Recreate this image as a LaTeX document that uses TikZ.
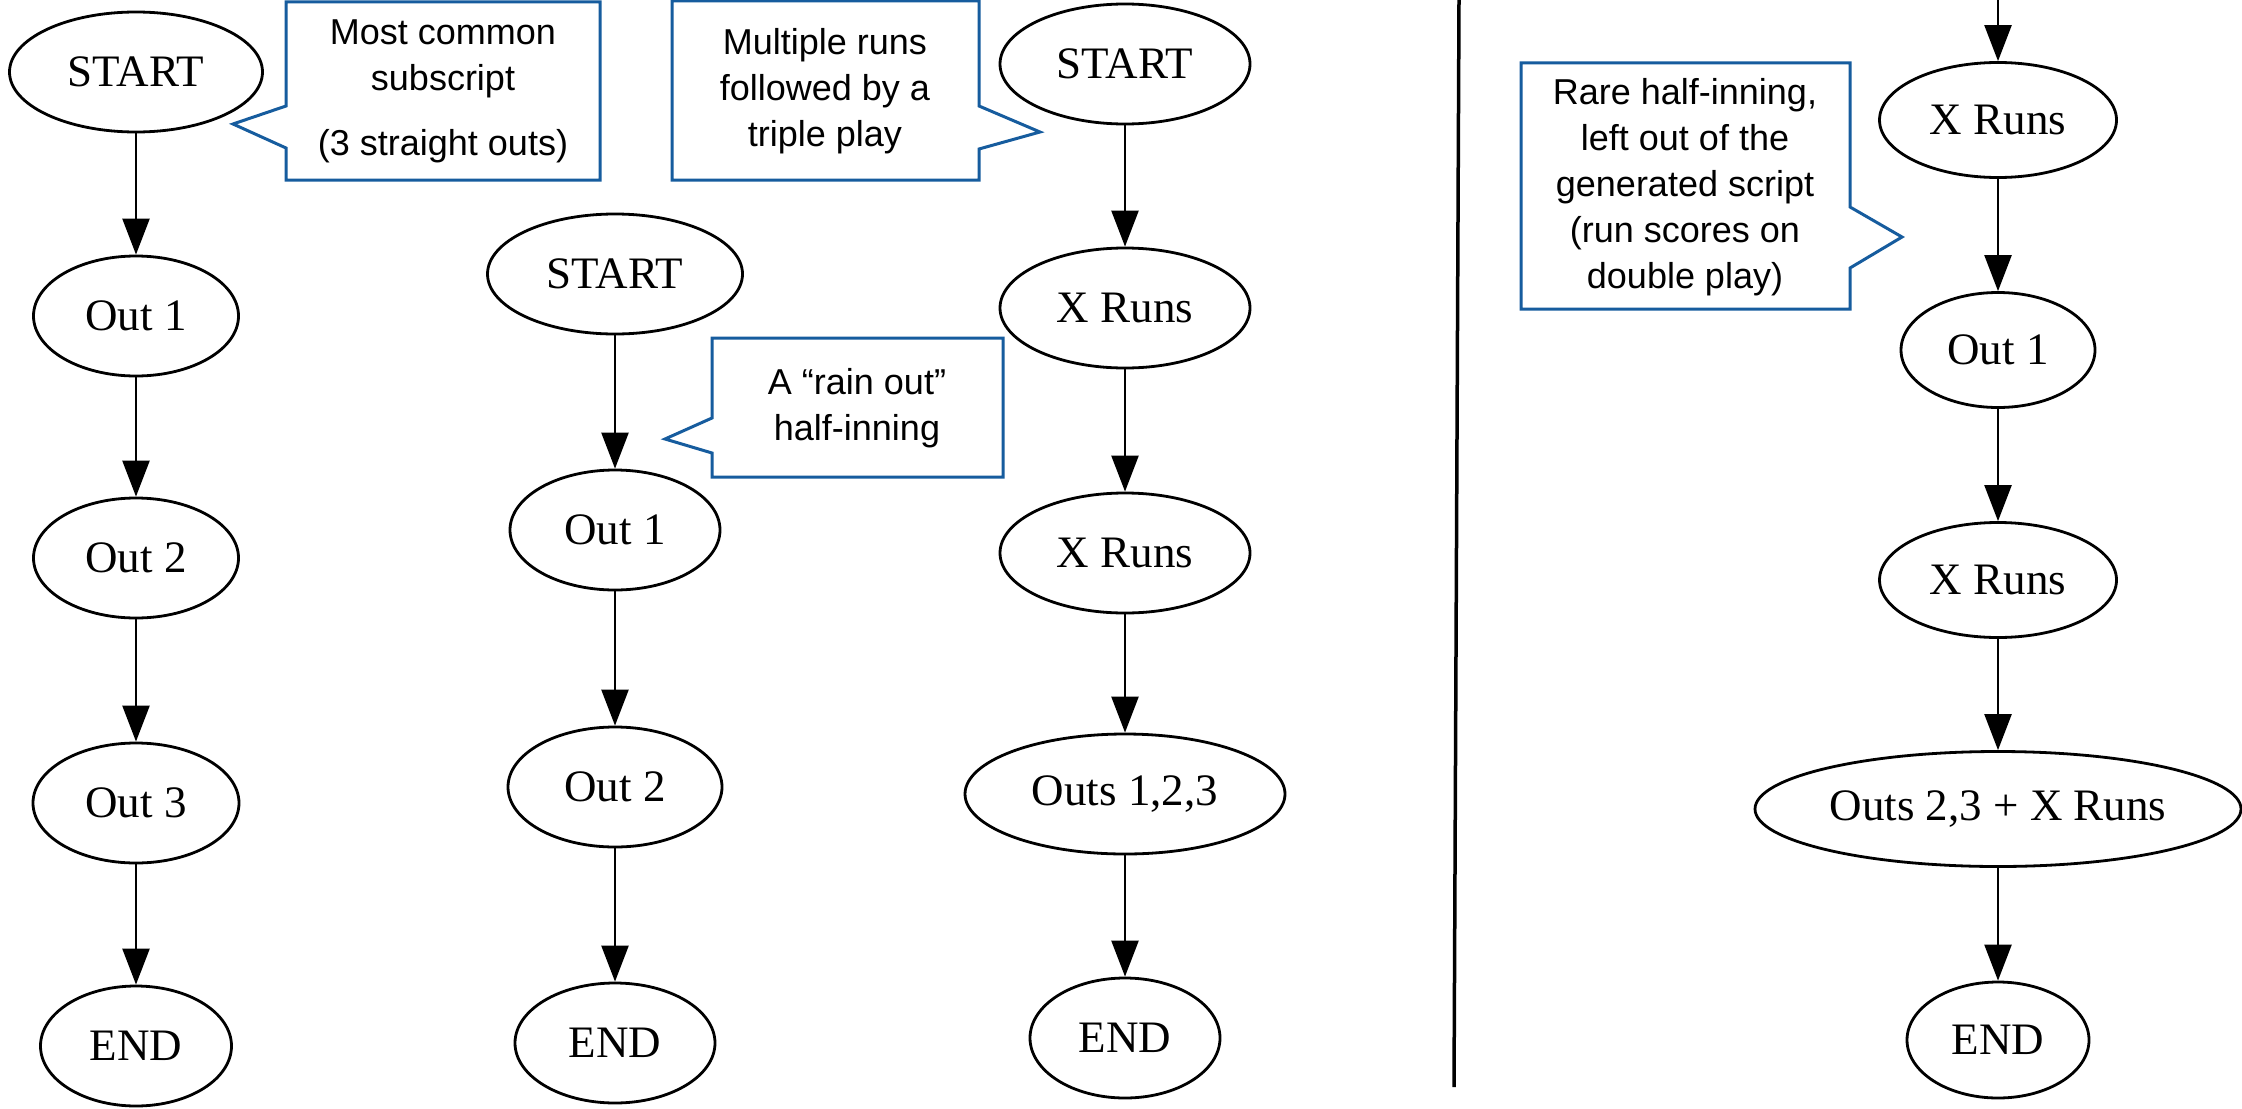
\documentclass[tikz,border=0pt]{standalone}
\usepackage{fontspec}
\setmainfont{Liberation Serif}
\newfontfamily\callfont{Liberation Sans}
\usetikzlibrary{shapes.geometric,arrows.meta}
\definecolor{callblue}{RGB}{22,92,158}
\begin{document}
\begin{tikzpicture}[x=1pt,y=-1pt,
  gnode/.style={ellipse,draw,line width=2.8pt,inner sep=0pt,minimum height=120pt,
    font=\fontsize{45}{50}\selectfont},
  edge/.style={line width=2.4pt,-{Triangle[length=36pt,width=27pt]}},
  callbox/.style={align=center,font=\callfont\fontsize{36}{46}\selectfont,inner sep=0pt},
  callline/.style={draw=callblue,line width=3pt,fill=white,line join=miter},
  divider/.style={line width=3.5pt}]
\useasboundingbox (0,0) rectangle (2242,1108);

% ---- column 1 ----
\node[gnode,minimum width=253pt] (s1) at (136,72)   {START};
\node[gnode,minimum width=205pt] (a1) at (136,316)  {Out 1};
\node[gnode,minimum width=205pt] (b1) at (136,558)  {Out 2};
\node[gnode,minimum width=206pt] (c1) at (136,803)  {Out 3};
\node[gnode,minimum width=191pt] (e1) at (136,1046) {END};
\draw[edge] (s1) -- (a1);
\draw[edge] (a1) -- (b1);
\draw[edge] (b1) -- (c1);
\draw[edge] (c1) -- (e1);

% ---- column 2 ----
\node[gnode,minimum width=255pt] (s2) at (615,274)  {START};
\node[gnode,minimum width=210pt] (a2) at (615,530)  {Out 1};
\node[gnode,minimum width=214pt] (b2) at (615,787)  {Out 2};
\node[gnode,minimum width=200pt] (e2) at (615,1043) {END};
\draw[edge] (s2) -- (a2);
\draw[edge] (a2) -- (b2);
\draw[edge] (b2) -- (e2);

% ---- column 3 ----
\node[gnode,minimum width=250pt] (s3) at (1125,64)   {START};
\node[gnode,minimum width=250pt] (x3a) at (1125,308) {X Runs};
\node[gnode,minimum width=250pt] (x3b) at (1125,553) {X Runs};
\node[gnode,minimum width=320pt] (o3) at (1125,794)  {Outs 1,2,3};
\node[gnode,minimum width=190pt] (e3) at (1125,1038) {END};
\draw[edge] (s3) -- (x3a);
\draw[edge] (x3a) -- (x3b);
\draw[edge] (x3b) -- (o3);
\draw[edge] (o3) -- (e3);

% ---- divider ----
\coordinate (dtop) at (1459,0);
\coordinate (dbot) at (1454,1087);
\draw[divider] (dtop) -- (dbot);

% ---- column 4 ----
\coordinate (top4) at (1998,0);
\node[gnode,minimum width=237pt,minimum height=115pt] (x4a) at (1998,120) {X Runs};
\node[gnode,minimum width=194pt,minimum height=115pt] (o4)  at (1998,350) {Out 1};
\node[gnode,minimum width=237pt,minimum height=115pt] (x4b) at (1998,580) {X Runs};
\node[gnode,minimum width=486pt,minimum height=115pt] (p4)  at (1998,809) {Outs 2,3 + X Runs};
\node[gnode,minimum width=182pt,minimum height=116pt] (e4)  at (1998,1040) {END};
\draw[edge] (top4) -- (x4a);
\draw[edge] (x4a) -- (o4);
\draw[edge] (o4) -- (x4b);
\draw[edge] (x4b) -- (p4);
\draw[edge] (p4) -- (e4);

% ---- callouts ----
\draw[callline] (286,2) -- (600,2) -- (600,180) -- (286,180) -- (286,148)
  -- (233,124) -- (286,106) -- cycle;
\node[callbox] (t1) at (443,91) {Most common\\subscript\\[19pt](3 straight outs)};

\draw[callline] (672,1) -- (979,1) -- (979,106) -- (1040,132) -- (979,149)
  -- (979,180) -- (672,180) -- cycle;
\node[callbox] (t2) at (825,91) {Multiple runs\\followed by a\\triple play};

\draw[callline] (712,338) -- (1003,338) -- (1003,477) -- (712,477) -- (712,453)
  -- (665,439) -- (712,418) -- cycle;
\node[callbox] (t3) at (857,408) {A “rain out”\\half-inning};

\draw[callline] (1521,63) -- (1850,63) -- (1850,207) -- (1902,237) -- (1850,268)
  -- (1850,309) -- (1521,309) -- cycle;
\node[callbox] (t4) at (1685,187) {Rare half-inning,\\left out of the\\generated script\\(run scores on\\double play)};
\end{tikzpicture}
\end{document}
